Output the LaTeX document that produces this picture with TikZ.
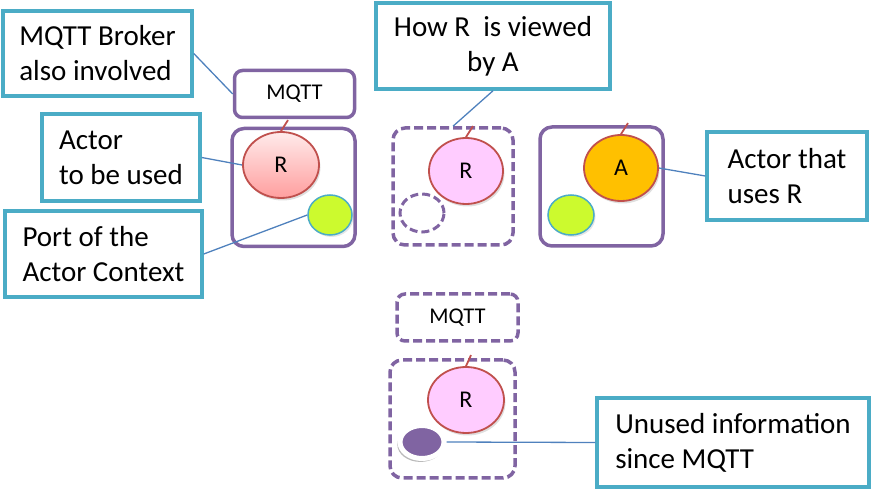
\documentclass[tikz,border=0pt]{standalone}
\usepackage{fontspec}
\setmainfont{Carlito}
\usepackage{xcolor}
\usetikzlibrary{shapes.geometric, shadows, positioning, calc}

\definecolor{callout}{HTML}{4BACC6}
\definecolor{ctxpurple}{HTML}{8064A2}
\definecolor{linkblue}{HTML}{4F81BD}
\definecolor{actorred}{HTML}{C0504D}
\definecolor{portlime}{HTML}{CCFA2E}
\definecolor{actororange}{HTML}{FFC000}
\definecolor{viewpink}{HTML}{FFCCFF}

\begin{document}
\begin{tikzpicture}[
  x=1pt, y=-1pt,
  note/.style={rectangle, draw=callout, line width=3.5pt, fill=white,
               align=left, font=\fontsize{29}{35}\selectfont, inner sep=0pt},
  ctx/.style={rectangle, draw=ctxpurple, line width=3.5pt, rounded corners=12pt,
              inner sep=0pt},
  ctxd/.style={ctx, dash pattern=on 9pt off 4pt},
  brk/.style={ctx, rounded corners=8pt, font=\fontsize{22.5}{24}\selectfont},
  brkd/.style={brk, dash pattern=on 9pt off 4pt},
  act/.style={ellipse, draw=actorred, line width=1.8pt, inner sep=0pt,
              font=\fontsize{24}{24}\selectfont,
              drop shadow={opacity=0.25, shadow xshift=1.5pt, shadow yshift=-2.5pt}},
  prt/.style={ellipse, draw=callout, fill=portlime, line width=1.5pt, inner sep=0pt,
              drop shadow={opacity=0.2, shadow xshift=1.5pt, shadow yshift=-2pt}},
  lnk/.style={linkblue, line width=1.3pt},
  tick/.style={actorred, line width=1.8pt}
]
\useasboundingbox (0,0) rectangle (871,494);

% callouts
\node[note, minimum width=189pt, minimum height=85pt] (cBroker) at (97.5,53.5)
  {MQTT Broker\\also involved};
\node[note, minimum width=158pt, minimum height=87pt] (cActor) at (121,157.5)
  {Actor\\to be used};
\node[note, minimum width=197pt, minimum height=86pt] (cPort) at (103.5,254)
  {Port of the\\Actor Context};
\node[note, align=center, minimum width=234pt, minimum height=86pt] (cView) at (493,46)
  {How R\ \ is viewed\\by A};
\node[note, minimum width=160pt, minimum height=88pt] (cUser) at (787,176)
  {Actor that\\uses R};
\node[note, minimum width=272pt, minimum height=89pt] (cUnused) at (733,442.5)
  {Unused information\\since MQTT};

% left: actor R with broker
\node[brk, minimum width=120pt, minimum height=47pt] (mqA) at (294.5,94)  {MQTT};
\node[ctx, minimum width=123pt, minimum height=118pt] (ctxA) at (293.5,187.5) {};
\node[act, top color=red!8, bottom color=red!38, minimum width=76pt, minimum height=66pt]
  (rA) at (281,165) {R};
\node[prt, minimum width=44pt, minimum height=40pt] (pA) at (330,215) {};
\draw[tick] (rA.north) -- ++(7,-11);

% middle: R as seen by A
\node[ctxd, minimum width=120pt, minimum height=117pt] (ctxV) at (453,186.5) {};
\node[act, fill=viewpink, minimum width=74pt, minimum height=66pt] (rV) at (466,171) {R};
\node[ellipse, draw=ctxpurple, line width=3pt, dash pattern=on 8pt off 4pt,
      minimum width=44pt, minimum height=38pt] (pV) at (422,213) {};
\draw[tick] (rV.north) -- ++(7,-11);

% right: actor A
\node[ctx, minimum width=123pt, minimum height=119pt] (ctxU) at (601.5,186.5) {};
\node[act, fill=actororange, minimum width=74pt, minimum height=66pt] (aU) at (621,168) {A};
\node[prt, minimum width=46pt, minimum height=40pt] (pU) at (571,215) {};
\draw[tick] (aU.north) -- ++(7,-11);

% bottom: R via MQTT
\node[brkd, minimum width=121pt, minimum height=47pt] (mqM) at (457.5,317.5) {MQTT};
\node[ctxd, minimum width=125pt, minimum height=118pt] (ctxM) at (452.5,419) {};
\node[act, fill=viewpink, minimum width=76pt, minimum height=66pt] (rM) at (466,400) {R};
\node[ellipse, draw=white, fill=ctxpurple, line width=5pt,
      minimum width=44pt, minimum height=33pt,
      drop shadow={opacity=0.45, fill=black!60, shadow xshift=-1.5pt, shadow yshift=-2.5pt,
                   shadow scale=1.05}] (pM) at (422,442) {};
\draw[tick] (rM.north) -- ++(5,-11);

% connectors
\draw[lnk] (cBroker.east) -- (mqA.west);
\draw[lnk] (cActor.east) -- (rA.west);
\draw[lnk] (cPort.east) -- (pA.west);
\draw[lnk] (cView.south) -- (ctxV.north);
\draw[lnk] (cUser.west) -- (aU.east);
\draw[lnk] (cUnused.west) -- (pM.east);
\end{tikzpicture}
\end{document}
